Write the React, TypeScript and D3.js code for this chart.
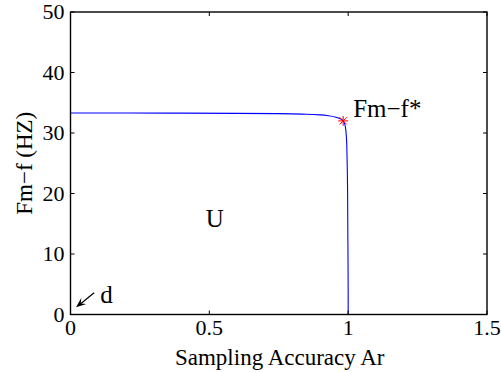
import React from 'react';
import * as d3 from 'd3';

// curve: Sampling Accuracy Ar vs Fm-f (HZ)
const accuracy = [0, 0.2, 0.4, 0.6, 0.75, 0.85, 0.9, 0.93, 0.96, 0.982, 0.99, 0.994, 0.996, 0.998, 0.999, 1.0, 1.0];
const freq = [33.3, 33.3, 33.28, 33.25, 33.2, 33.1, 33.0, 32.85, 32.55, 32.0, 31.0, 29.0, 26.0, 20.0, 12.0, 4.0, 0];

const starPoint = [0.982, 32.0];

const xTicks = [0, 0.5, 1, 1.5];
const yTicks = [0, 10, 20, 30, 40, 50];

const FONT = "'Liberation Serif'";

const width = 501, height = 372;
const margin = { top: 12, right: 14, bottom: 57.5, left: 70.5 };
const W = width - margin.left - margin.right;
const H = height - margin.top - margin.bottom;

const x = d3.scaleLinear().domain([0, 1.5]).range([0, W]);
const y = d3.scaleLinear().domain([0, 50]).range([H, 0]);
const fmt = d3.format('~g');

const App = () => {
    const pts = accuracy.map((a, i) => [a, freq[i]] as [number, number]);
    const curve = d3.line<[number, number]>().x(d => x(d[0])).y(d => y(d[1])).curve(d3.curveMonotoneY)(pts) || '';

    const sx = x(starPoint[0]), sy = y(starPoint[1]), r = 5, rd = r * 0.72;
    const starLines = [[-r, 0, r, 0], [0, -r, 0, r], [-rd, -rd, rd, rd], [-rd, rd, rd, -rd]];

    // arrow pointing at the origin, the "d" annotation
    const ax1 = x(0.085), ay1 = y(3.6), ax2 = x(0.02), ay2 = y(1.2);
    const ang = Math.atan2(ay2 - ay1, ax2 - ax1);
    const hl = 10, hw = 4;
    const bx = ax2 - hl * Math.cos(ang), by = ay2 - hl * Math.sin(ang);
    const nx = -Math.sin(ang) * hw, ny = Math.cos(ang) * hw;
    const mx = ax2 - hl * 0.6 * Math.cos(ang), my = ay2 - hl * 0.6 * Math.sin(ang);
    const head = `M${ax2},${ay2}L${bx + nx},${by + ny}L${mx},${my}L${bx - nx},${by - ny}Z`;

    const txt = (size: number) => ({ fontFamily: FONT, fontSize: `${size}px` });

    return (
        <svg width={width} height={height} style={{ position: 'absolute', left: 0, top: 0, background: '#fff' }}>
            <g transform={`translate(${margin.left},${margin.top})`}>
                <path d={curve} fill="none" stroke="#0000ff" strokeWidth={1.1} />

                <g stroke="#ff0000" strokeWidth={1}>
                    {starLines.map(([x1, y1, x2, y2], i) => (
                        <line key={i} x1={sx + x1} y1={sy + y1} x2={sx + x2} y2={sy + y2} />
                    ))}
                </g>

                {/* MATLAB-style inward ticks on all four sides */}
                {xTicks.map(t => (
                    <g key={`x${t}`} stroke="#000" strokeWidth={1}>
                        <line x1={x(t)} x2={x(t)} y1={H} y2={H - 4} />
                        <line x1={x(t)} x2={x(t)} y1={0} y2={4} />
                    </g>
                ))}
                {yTicks.map(t => (
                    <g key={`y${t}`} stroke="#000" strokeWidth={1}>
                        <line x1={0} x2={4} y1={y(t)} y2={y(t)} />
                        <line x1={W} x2={W - 4} y1={y(t)} y2={y(t)} />
                    </g>
                ))}
                <rect x={0} y={0} width={W} height={H} fill="none" stroke="#000" strokeWidth={1.4} />

                {xTicks.map(t => (
                    <text key={`xl${t}`} x={x(t)} y={H + 5} dy="0.71em" textAnchor="middle" style={txt(22)}>{fmt(t)}</text>
                ))}
                {yTicks.map(t => (
                    <text key={`yl${t}`} x={-6} y={y(t)} dy="0.32em" textAnchor="end" style={txt(22)}>{fmt(t)}</text>
                ))}

                <text x={x(0.52)} y={y(14.5)} textAnchor="middle" style={txt(25)}>U</text>
                <text x={sx + 10} y={sy - 4} style={txt(25)}>{'Fm\u2212f*'}</text>
                <text x={x(0.107)} y={y(1.9)} style={txt(25)}>d</text>

                <line x1={ax1} y1={ay1} x2={ax2 + 4} y2={ay2 - 3} stroke="#000" strokeWidth={1.2} />
                <path d={head} fill="#000" />
            </g>

            <text x={margin.left + W / 2 + 1} y={365} textAnchor="middle" style={txt(23)}>Sampling Accuracy Ar</text>
            <text transform={`translate(32,${margin.top + H / 2}) rotate(-90)`} textAnchor="middle" style={txt(23)}>
                {'Fm\u2212f (HZ)'}
            </text>
        </svg>
    );
};

export default App;
